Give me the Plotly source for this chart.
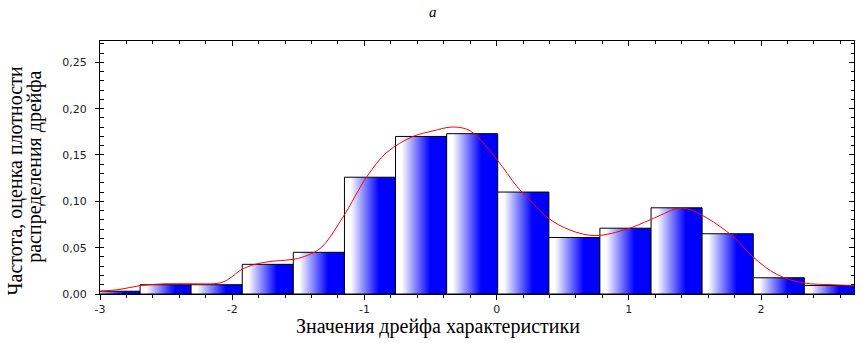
import plotly.graph_objects as go

# ---- data ----
bin_edges = [-3.084, -2.697, -2.311, -1.924, -1.538, -1.151, -0.765, -0.378,
             0.008, 0.395, 0.781, 1.168, 1.554, 1.941, 2.327, 2.714]
bin_freq = [0.003, 0.010, 0.010, 0.032, 0.045, 0.126, 0.170, 0.173,
            0.110, 0.061, 0.071, 0.093, 0.065, 0.0175, 0.0092]

kde_x = [-3.000, -2.849, -2.697, -2.508, -2.319, -2.092, -2.017, -1.933, -1.828,
         -1.714, -1.563, -1.487, -1.336, -1.162, -0.980, -0.829, -0.632, -0.481,
         -0.353, -0.254, -0.179, 0.003, 0.154, 0.275, 0.389, 0.555, 0.744, 0.986,
         1.160, 1.365, 1.440, 1.591, 1.788, 1.939, 2.121, 2.318, 2.545, 2.711]
kde_y = [0.003, 0.005, 0.009, 0.011, 0.011, 0.012, 0.017, 0.026, 0.032,
         0.035, 0.037, 0.039, 0.049, 0.083, 0.127, 0.153, 0.170, 0.176,
         0.180, 0.179, 0.174, 0.145, 0.116, 0.098, 0.082, 0.069, 0.063, 0.070,
         0.080, 0.092, 0.092, 0.082, 0.062, 0.040, 0.021, 0.012, 0.010, 0.009]

x_tick_vals = [-3, -2, -1, 0, 1, 2]
x_tick_text = ["-3", "-2", "-1", "0", "1", "2"]
y_tick_vals = [0.00, 0.05, 0.10, 0.15, 0.20, 0.25]

x_range = [-3.0, 2.703]
y_range = [0.0, 0.273]

title_text = "a"
x_title = "Значения дрейфа характеристики"
y_title_1 = "Частота, оценка плотности"
y_title_2 = "распределения дрейфа"

fig = go.Figure()

grad = dict(type="horizontal",
            colorscale=[[0, "#ffffff"], [0.12, "#ffffff"], [0.68, "#0000ff"], [1, "#0000ff"]])

for i, h in enumerate(bin_freq):
    x0, x1 = bin_edges[i], bin_edges[i + 1]
    fig.add_trace(go.Scatter(
        x=[x0, x0, x1, x1, x0], y=[0, h, h, 0, 0],
        mode="lines", fill="toself", fillgradient=grad,
        line=dict(color="black", width=1), showlegend=False, hoverinfo="skip"))

fig.add_trace(go.Scatter(x=kde_x, y=kde_y, mode="lines",
                         line=dict(color="#ff0000", width=1, shape="spline"),
                         showlegend=False))

# invisible trace for mirrored axes
fig.add_trace(go.Scatter(x=[x_range[0]], y=[y_range[0]], xaxis="x2", yaxis="y2",
                         mode="markers", marker=dict(opacity=0), showlegend=False,
                         hoverinfo="skip"))

tick_font = dict(family="DejaVu Sans", size=11, color="#222222")
serif = "Liberation Serif"

fig.update_layout(
    width=868, height=343,
    margin=dict(l=100, r=14, t=41, b=49),
    paper_bgcolor="white", plot_bgcolor="white",
    separators=", ",
    xaxis=dict(range=x_range, tickvals=x_tick_vals, ticktext=x_tick_text,
               ticks="outside", ticklen=5, tickcolor="black", tickwidth=1,
               minor=dict(dtick=0.2, tick0=0, ticks="outside", ticklen=3, tickcolor="black"),
               showline=True, linecolor="black", linewidth=1, showgrid=False,
               zeroline=False, tickfont=tick_font, ticklabelstandoff=0),
    yaxis=dict(range=y_range, tickvals=y_tick_vals, tickformat=".2f",
               ticks="outside", ticklen=4, tickcolor="black", tickwidth=1,
               minor=dict(dtick=0.01, tick0=0, ticks="inside", ticklen=4, tickcolor="black"),
               showline=True, linecolor="black", linewidth=1, showgrid=False,
               zeroline=False, tickfont=tick_font, ticklabelstandoff=6),
    xaxis2=dict(range=x_range, overlaying="x", side="top", tickvals=x_tick_vals,
                ticks="inside", ticklen=5, tickcolor="black",
                minor=dict(dtick=0.2, tick0=0, ticks="inside", ticklen=3, tickcolor="black"),
                showticklabels=False, showline=True, linecolor="black", linewidth=1,
                showgrid=False, zeroline=False),
    yaxis2=dict(range=y_range, overlaying="y", side="right", tickvals=y_tick_vals,
                ticks="inside", ticklen=5, tickcolor="black",
                minor=dict(dtick=0.01, tick0=0, ticks="inside", ticklen=3, tickcolor="black"),
                showticklabels=False, showline=True, linecolor="black", linewidth=1,
                showgrid=False, zeroline=False),
    annotations=[
        dict(text=title_text, xref="paper", yref="paper", x=0.442, y=1.115,
             showarrow=False, font=dict(family=serif, size=15, color="black", style="italic"),
             xanchor="center", yanchor="middle"),
        dict(text=x_title, xref="paper", yref="paper", x=0.448, y=-0.13,
             showarrow=False, font=dict(family=serif, size=20, color="black"),
             xanchor="center", yanchor="middle"),
        dict(text=y_title_1, xref="paper", yref="paper", x=-0.112, y=0.447,
             textangle=-90, showarrow=False,
             font=dict(family=serif, size=20, color="black"),
             xanchor="center", yanchor="middle"),
        dict(text=y_title_2, xref="paper", yref="paper", x=-0.0865, y=0.502,
             textangle=-90, showarrow=False,
             font=dict(family=serif, size=20, color="black"),
             xanchor="center", yanchor="middle"),
    ],
)

# remove the browser's default body margin so the figure fills the window exactly
fig.write_html("out.html", config={"displayModeBar": False},
               post_script="document.body.style.margin='0px';")
